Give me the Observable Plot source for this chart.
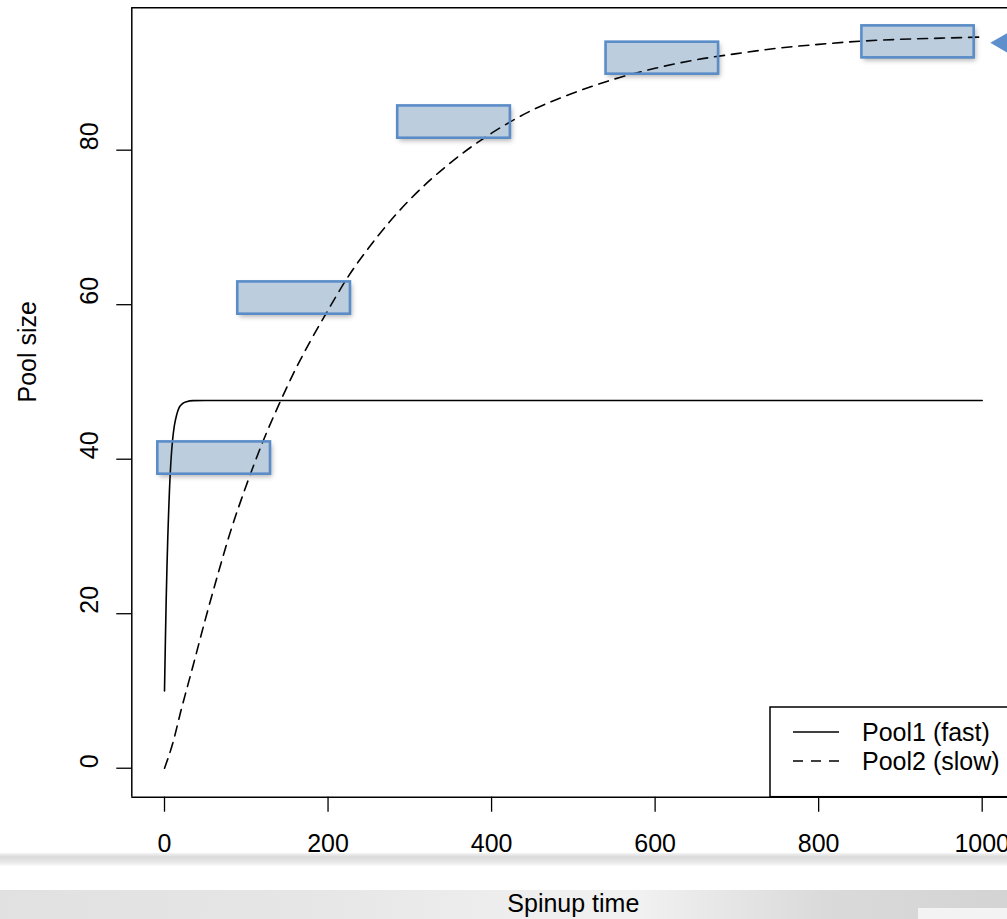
<!DOCTYPE html>
<html>
<head>
<meta charset="utf-8">
<script src="https://cdn.jsdelivr.net/npm/d3@7"></script>
<script src="https://cdn.jsdelivr.net/npm/@observablehq/plot@0.6"></script>
<style>
  html, body { margin: 0; padding: 0; overflow: hidden; background: #fff; }
  #chart { width: 1030px; }
  #chart svg { display: block; max-width: none !important; width: 1030px !important; height: 919px !important; }
</style>
</head>
<body>
<div id="chart"></div>
<script>
// Axis ticks
const xTicks = [0, 200, 400, 600, 800, 1000];
const yTicks = [0, 20, 40, 60, 80];

// Series names (legend)
const seriesNames = ["Pool1 (fast)", "Pool2 (slow)"];

// Pool1 (fast): spin-up time and pool size
const fastTime = [0, 1, 2, 3, 4, 5, 6, 8, 10, 12, 15, 18, 22, 27, 35, 50, 1000];
const fastSize = [10, 16, 21.5, 26, 29.8, 33, 35.8, 40, 42.6, 44.3, 45.8, 46.7, 47.2, 47.45, 47.58, 47.6, 47.6];

// Pool2 (slow): spin-up time and pool size
const slowTime = [0, 10, 20, 35, 50, 65, 80, 100, 120, 140, 160, 180, 200, 225, 250, 275, 300, 350, 400, 450, 500, 550, 600, 650, 700, 750, 800, 850, 900, 950, 1000];
const slowSize = [0, 3.2, 7.4, 13.3, 19.3, 25, 30.4, 36.6, 42.2, 47.1, 51.6, 55.6, 59.3, 63.7, 67.4, 70.7, 73.6, 78.4, 82.2, 85.2, 87.4, 89.2, 90.6, 91.7, 92.5, 93.2, 93.7, 94.1, 94.35, 94.5, 94.65];

// Highlight boxes along the slow pool (time and size extents)
const boxTimeStart = [-8.2, 89.6, 285.2, 540, 852.9];
const boxTimeEnd   = [129.6, 227.4, 423, 677.6, 990.2];
const boxSizeLow   = [38.06, 58.77, 81.55, 89.84, 91.95];
const boxSizeHigh  = [42.24, 62.95, 85.73, 93.98, 96.09];

// Pointer at the slow pool's end value
const pointerTime = [1024.8];
const pointerSize = [93.9];

// Tables for the marks
const fast = fastTime.map((t, i) => ({t, v: fastSize[i], s: seriesNames[0]}));
const slow = slowTime.map((t, i) => ({t, v: slowSize[i], s: seriesNames[1]}));
const boxes = boxTimeStart.map((x1, i) => ({x1, x2: boxTimeEnd[i], y1: boxSizeLow[i], y2: boxSizeHigh[i]}));
const pointer = pointerTime.map((t, i) => ({t, v: pointerSize[i]}));

const xDomain = [-40, 1040];
const yDomain = [-3.75, 98.43];
const FONT = "'Liberation Sans', Arial, Helvetica, sans-serif";

const plot = Plot.plot({
  width: 1030,
  height: 919,
  marginLeft: 131.3,
  marginRight: 15.6,
  marginTop: 7.3,
  marginBottom: 122.3,
  x: {domain: xDomain},
  y: {domain: yDomain},
  style: {fontFamily: FONT, fontSize: "25px", background: "transparent", maxWidth: "none", color: "black"},
  marks: [
    // box bodies (with shadow), under the curves
    Plot.rect(boxes, {x1: "x1", x2: "x2", y1: "y1", y2: "y2", fill: "#c6d4e2"}),
    Plot.line(fast, {x: "t", y: "v", stroke: "black", strokeWidth: 1.6, curve: "monotone-x"}),
    Plot.line(slow, {x: "t", y: "v", stroke: "black", strokeWidth: 1.6, strokeDasharray: "10,7", curve: "monotone-x"}),
    // box outlines with a light tint over the curves
    Plot.rect(boxes, {x1: "x1", x2: "x2", y1: "y1", y2: "y2", fill: "#4f7aa8", fillOpacity: 0.08, stroke: "#5a8cc8", strokeWidth: 2.6}),
    Plot.dot(pointer, {x: "t", y: "v", symbol: "triangle", r: 7.8, rotate: -90, fill: "#5d8fcc", stroke: "none"}),
    // plot box (left, top, bottom)
    Plot.ruleX([xDomain[0]], {stroke: "black", strokeWidth: 1.5}),
    Plot.ruleY([yDomain[1]], {stroke: "black", strokeWidth: 1.5}),
    Plot.ruleY([yDomain[0]], {stroke: "black", strokeWidth: 1.5}),
    Plot.axisX(xTicks, {tickSize: 15, tickPadding: 22, fontSize: 25, label: null, tickFormat: d => String(d), strokeWidth: 1.3}),
    Plot.axisY(yTicks, {tickSize: 15, tickFormat: () => "", label: null, strokeWidth: 1.3}),
    Plot.text(yTicks, {frameAnchor: "left", y: d => d, text: d => String(d), rotate: -90, dx: -34, lineAnchor: "bottom", fontSize: 25}),
    Plot.text(["Spinup time"], {x: 500, frameAnchor: "bottom", dy: 115, lineAnchor: "bottom", fontSize: 25}),
    Plot.text(["Pool size"], {y: (yDomain[0] + yDomain[1]) / 2, frameAnchor: "left", rotate: -90, dx: -96, lineAnchor: "bottom", fontSize: 25})
  ]
});

const svg = d3.select(plot);
const sx = plot.scale("x"), sy = plot.scale("y");
const defs = svg.insert("defs", ":first-child");

// soft drop shadow for the box bodies
const f = defs.append("filter").attr("id", "boxShadow").attr("x", "-20%").attr("y", "-40%").attr("width", "140%").attr("height", "200%");
f.append("feDropShadow").attr("dx", 2).attr("dy", 3).attr("stdDeviation", 2.5).attr("flood-color", "#000").attr("flood-opacity", 0.3);
svg.select('g[aria-label="rect"]').attr("filter", "url(#boxShadow)");

// slide backdrop bands along the bottom
const gBand = defs.append("linearGradient").attr("id", "band").attr("x1", 0).attr("y1", 0).attr("x2", 0).attr("y2", 1);
[["0", "#f4f4f4"], ["0.3", "#dadada"], ["0.7", "#e8e8e8"], ["1", "#fbfbfb"]].forEach(([o, c]) => gBand.append("stop").attr("offset", o).attr("stop-color", c));
const gFloor = defs.append("linearGradient").attr("id", "floor").attr("x1", 0).attr("y1", 0).attr("x2", 1).attr("y2", 0);
[["0", "#e1e1e1"], ["0.3", "#e6e6e6"], ["0.5", "#eeeeee"], ["0.62", "#f1f1f1"], ["0.8", "#dadada"], ["1", "#d3d3d3"]].forEach(([o, c]) => gFloor.append("stop").attr("offset", o).attr("stop-color", c));

const back = svg.insert("g", "defs + *").attr("aria-label", "backdrop");
back.append("rect").attr("x", 0).attr("y", 853).attr("width", 1030).attr("height", 13).attr("fill", "url(#band)");
back.append("rect").attr("x", 0).attr("y", 890).attr("width", 1030).attr("height", 29).attr("fill", "url(#floor)");
back.append("rect").attr("x", 918).attr("y", 908).attr("width", 112).attr("height", 11).attr("fill", "#f3f3f3");

// legend, bottom-right inside the plot box
const right = sx.apply(xDomain[1]), bottom = sy.apply(yDomain[0]);
const lg = svg.append("g").attr("aria-label", "legend").attr("font-family", FONT).attr("font-size", 25).attr("text-anchor", "start");
lg.append("rect").attr("x", 770).attr("y", 707).attr("width", right - 770).attr("height", bottom - 707)
  .attr("fill", "white").attr("stroke", "black").attr("stroke-width", 1.5);
const rows = [732, 761];
seriesNames.forEach((name, i) => {
  lg.append("line").attr("x1", 793).attr("x2", 839).attr("y1", rows[i]).attr("y2", rows[i])
    .attr("stroke", "black").attr("stroke-width", 1.6).attr("stroke-dasharray", i === 1 ? "10,8" : null);
  lg.append("text").attr("x", 862).attr("y", rows[i] + 8.5).attr("fill", "black").text(name);
});
// redraw the bottom edge over the legend box
lg.append("line").attr("x1", 770).attr("x2", right).attr("y1", bottom).attr("y2", bottom).attr("stroke", "black").attr("stroke-width", 1.5);

document.getElementById("chart").appendChild(plot);
</script>
</body>
</html>
